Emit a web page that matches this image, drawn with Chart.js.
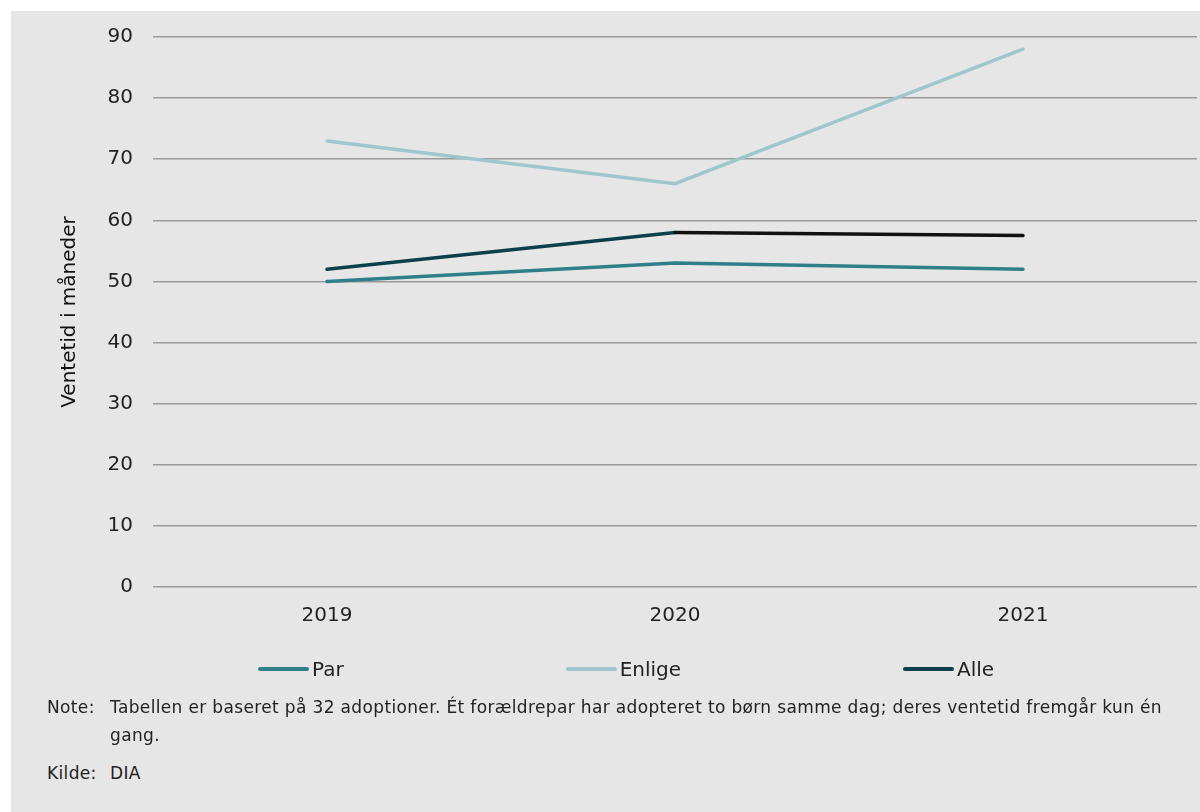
<!DOCTYPE html>
<html>
<head>
<meta charset="utf-8">
<script src="https://cdn.jsdelivr.net/npm/chart.js@4"></script>
<style>
  body { margin: 0; background: #fff; width: 1200px; height: 812px; overflow: hidden; }
  #panel { position: absolute; left: 11px; top: 11px; width: 1189px; height: 801px; background: #e6e6e6; }
  #wrap { position: absolute; left: 0; top: 0; width: 1189px; height: 690px; }
  #legend { position: absolute; left: 247px; top: 646px; display: flex; gap: 222px; font-family: "DejaVu Sans"; font-size: 20px; color: #222; }
  #legend .item { display: flex; align-items: center; }
  #legend .ln { display: inline-block; width: 51px; height: 4px; border-radius: 2px; margin-right: 3px; }
  .note { position: absolute; font-family: "DejaVu Sans"; font-size: 17px; letter-spacing: 0.35px; color: #222; line-height: 28px; }
</style>
</head>
<body>
<div id="panel">
  <div id="wrap"><canvas id="myChart"></canvas></div>
  <div id="legend"></div>
  <div class="note" style="left:36px; top:682px;">Note:</div>
  <div class="note" style="left:99px; top:682px; width:1075px;">Tabellen er baseret på 32 adoptioner. Ét forældrepar har adopteret to børn samme dag; deres ventetid fremgår kun én gang.</div>
  <div class="note" style="left:36px; top:748px;">Kilde:</div>
  <div class="note" style="left:99px; top:748px;">DIA</div>
</div>
<script>
const years = ['2019', '2020', '2021'];
const par = [50, 53, 52];
const enlige = [73, 66, 88];
const alle = [52, 58, 57.5];
const seriesNames = ['Par', 'Enlige', 'Alle'];
const seriesColors = ['#2f7f8b', '#9fc6cc', '#0b3f49'];

const ctx = document.getElementById('myChart');

const chart = new Chart(ctx, {
  type: 'line',
  data: {
    labels: years,
    datasets: [
      { label: seriesNames[0], data: par, borderColor: seriesColors[0], backgroundColor: seriesColors[0] },
      { label: seriesNames[1], data: enlige, borderColor: seriesColors[1], backgroundColor: seriesColors[1] },
      { label: seriesNames[2], data: alle, borderColor: seriesColors[2], backgroundColor: seriesColors[2],
        segment: { borderColor: c => c.p0DataIndex === 1 ? '#111' : undefined } }
    ]
  },
  options: {
    responsive: true,
    maintainAspectRatio: false,
    animation: false,
    layout: { padding: { top: 26, right: 3, left: 0, bottom: 0 } },
    elements: {
      line: { borderWidth: 3.5, tension: 0, borderCapStyle: 'round' },
      point: { radius: 0 }
    },
    plugins: {
      legend: { display: false },
      tooltip: { enabled: false }
    },
    scales: {
      x: {
        offset: true,
        grid: { display: false, drawTicks: false },
        border: { display: false },
        ticks: { padding: 17, color: '#222', font: { family: 'DejaVu Sans', size: 20 } },
        afterFit: s => { s.height = 114; }
      },
      y: {
        min: 0,
        max: 90,
        ticks: { stepSize: 10, padding: 20, color: '#222', font: { family: 'DejaVu Sans', size: 20 } },
        grid: { color: '#9a9a9a', lineWidth: 1.5, drawTicks: false },
        border: { display: false },
        title: { display: true, text: 'Ventetid i måneder', color: '#111', font: { family: 'DejaVu Sans', size: 20 }, padding: { top: 47 } },
        afterFit: s => { s.width = 142; s.paddingTop = 0; s.paddingBottom = 0; }
      }
    }
  }
});

// html legend built from the datasets
const legendEl = document.getElementById('legend');
chart.data.datasets.forEach(ds => {
  const item = document.createElement('div');
  item.className = 'item';
  const ln = document.createElement('span');
  ln.className = 'ln';
  ln.style.background = ds.borderColor;
  const txt = document.createElement('span');
  txt.textContent = ds.label;
  item.appendChild(ln);
  item.appendChild(txt);
  legendEl.appendChild(item);
});
</script>
</body>
</html>
